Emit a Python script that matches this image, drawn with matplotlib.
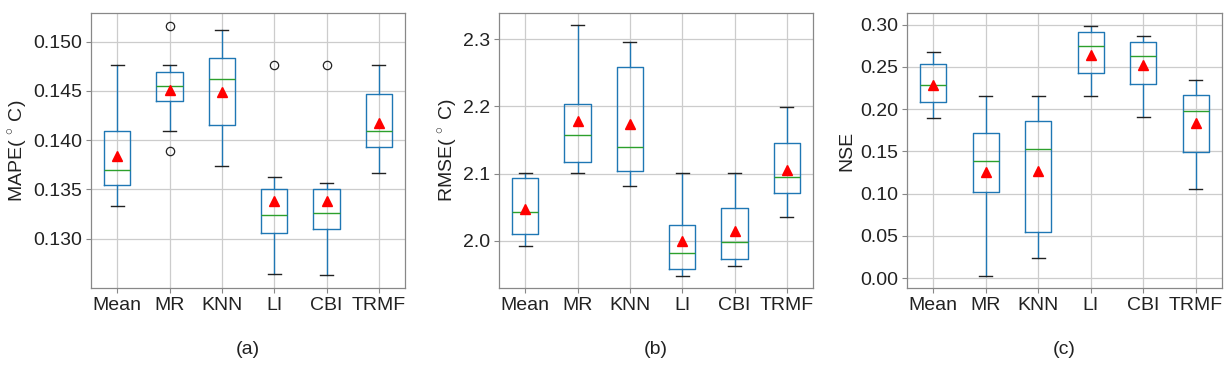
import numpy as np
import matplotlib.pyplot as plt

plt.rcParams['font.family'] = ['Liberation Sans', 'DejaVu Sans']
plt.rcParams['mathtext.fontset'] = 'custom'
plt.rcParams['mathtext.rm'] = 'Liberation Sans'

methods = ["Mean", "MR", "KNN", "LI", "CBI", "TRMF"]

# MAPE box statistics
mape_whislo = [0.1333, 0.1409, 0.1374, 0.1264, 0.1263, 0.1367]
mape_q1 = [0.1354, 0.1440, 0.1415, 0.1306, 0.1310, 0.1393]
mape_med = [0.1370, 0.1455, 0.1462, 0.1324, 0.1326, 0.1409]
mape_q3 = [0.1409, 0.1469, 0.1483, 0.1350, 0.1350, 0.1447]
mape_whishi = [0.1476, 0.1476, 0.1512, 0.1363, 0.1357, 0.1476]
mape_mean = [0.1384, 0.1451, 0.1449, 0.1338, 0.1338, 0.1417]
mape_fliers = [[], [0.1516, 0.1389], [], [0.1476], [0.1476], []]

# RMSE box statistics
rmse_whislo = [1.992, 2.101, 2.082, 1.948, 1.962, 2.036]
rmse_q1 = [2.011, 2.117, 2.104, 1.959, 1.973, 2.071]
rmse_med = [2.043, 2.158, 2.140, 1.982, 1.998, 2.095]
rmse_q3 = [2.093, 2.204, 2.259, 2.023, 2.049, 2.145]
rmse_whishi = [2.101, 2.321, 2.296, 2.101, 2.101, 2.199]
rmse_mean = [2.048, 2.178, 2.174, 2.000, 2.015, 2.106]
rmse_fliers = [[], [], [], [], [], []]

# NSE box statistics
nse_whislo = [0.189, 0.003, 0.024, 0.215, 0.191, 0.105]
nse_q1 = [0.209, 0.102, 0.054, 0.243, 0.230, 0.149]
nse_med = [0.229, 0.139, 0.153, 0.275, 0.263, 0.198]
nse_q3 = [0.253, 0.172, 0.186, 0.291, 0.280, 0.217]
nse_whishi = [0.268, 0.215, 0.215, 0.299, 0.287, 0.235]
nse_mean = [0.228, 0.126, 0.127, 0.264, 0.252, 0.183]
nse_fliers = [[], [], [], [], [], []]


def make_stats(lo, q1, med, q3, hi, mean, fliers):
    return [dict(label=m, whislo=a, q1=b, med=c, q3=d, whishi=e, mean=f,
                 fliers=np.array(g))
            for m, a, b, c, d, e, f, g in zip(methods, lo, q1, med, q3, hi, mean, fliers)]


panels = [
    (make_stats(mape_whislo, mape_q1, mape_med, mape_q3, mape_whishi, mape_mean, mape_fliers),
     r"MAPE($\,^\circ\,$C)", (0.125, 0.1529), [0.130, 0.135, 0.140, 0.145, 0.150], "{:.3f}", "(a)"),
    (make_stats(rmse_whislo, rmse_q1, rmse_med, rmse_q3, rmse_whishi, rmse_mean, rmse_fliers),
     r"RMSE($\,^\circ\,$C)", (1.930, 2.339), [2.0, 2.1, 2.2, 2.3], "{:.1f}", "(b)"),
    (make_stats(nse_whislo, nse_q1, nse_med, nse_q3, nse_whishi, nse_mean, nse_fliers),
     "NSE", (-0.0118, 0.3138), [0.0, 0.05, 0.10, 0.15, 0.20, 0.25, 0.30], "{:.2f}", "(c)"),
]

fig = plt.figure(figsize=(12.31, 3.66), dpi=100)
W, H = 1231, 366
lefts = [91, 499, 907]
rights = [405, 813, 1222]
top, bottom = 13, 288
fs = 14

for (stats, ylabel, ylim, yticks, fmt, cap), l, r in zip(panels, lefts, rights):
    ax = fig.add_axes([l / W, (H - bottom) / H, (r - l) / W, (bottom - top) / H])
    ax.bxp(stats, showmeans=True, widths=0.5,
           boxprops=dict(color="#1f77b4", lw=1.0),
           whiskerprops=dict(color="#1f77b4", lw=1.0),
           capprops=dict(color="#222222", lw=1.0),
           medianprops=dict(color="#2ca02c", lw=1.0),
           meanprops=dict(marker="^", markerfacecolor="red", markeredgecolor="red",
                          markersize=7.5),
           flierprops=dict(marker="o", markerfacecolor="none", markeredgecolor="#222222",
                           markersize=6, markeredgewidth=0.9))
    ax.set_xlim(0.5, 6.5)
    ax.set_ylim(*ylim)
    ax.set_yticks(yticks)
    ax.set_yticklabels([fmt.format(v) for v in yticks])
    ax.set_xticks(range(1, 7))
    ax.set_xticklabels(methods)
    ax.grid(True, color="#cccccc", lw=0.9)
    ax.set_axisbelow(True)
    for s in ax.spines.values():
        s.set_color("#888888")
        s.set_linewidth(0.9)
    ax.tick_params(colors="#888888", labelcolor="#222222", labelsize=fs, length=3.5,
                   width=0.8, pad=3)
    ax.set_ylabel(ylabel, fontsize=fs, color="#222222", labelpad=3)
    ax.text(0.5, -0.225, cap, transform=ax.transAxes, ha="center", va="center",
            fontsize=fs, color="#222222")

fig.savefig("out.png", dpi=100)
